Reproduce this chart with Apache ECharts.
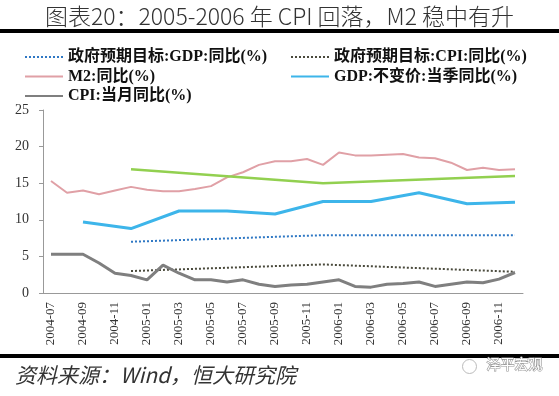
<!DOCTYPE html>
<html lang="zh">
<head>
<meta charset="UTF-8">
<title>图表20</title>
<style>
    html, body { margin: 0; padding: 0; background: #fff; }
    #main { width: 559px; height: 396px; }
</style>
</head>
<body>
<div id="main"></div>
<script src="https://cdn.jsdelivr.net/npm/echarts@6/dist/echarts.min.js"></script>
<script>
// 月份 2004-07 ~ 2006-12
var months = [
    '2004-07','2004-08','2004-09','2004-10','2004-11','2004-12',
    '2005-01','2005-02','2005-03','2005-04','2005-05','2005-06',
    '2005-07','2005-08','2005-09','2005-10','2005-11','2005-12',
    '2006-01','2006-02','2006-03','2006-04','2006-05','2006-06',
    '2006-07','2006-08','2006-09','2006-10','2006-11','2006-12'
];
var yTicks = [0, 5, 10, 15, 20, 25];

// M2:同比(%)
var m2 = [15.3,13.7,14.0,13.5,14.0,14.5,14.1,13.9,13.9,14.2,14.6,15.8,16.5,17.5,18.0,
          18.0,18.3,17.5,19.2,18.8,18.8,18.9,19.0,18.5,18.4,17.8,16.8,17.1,16.8,16.9];
// CPI:当月同比(%)
var cpi = [5.3,5.3,5.3,4.1,2.7,2.4,1.8,3.8,2.7,1.8,1.8,1.5,1.8,1.2,0.9,
           1.1,1.2,1.5,1.8,0.9,0.8,1.2,1.3,1.5,0.9,1.2,1.5,1.4,1.9,2.8];
// GDP:不变价:当季同比(%) 季度
var gdp = [null,null,9.7,null,null,8.8,null,null,11.2,null,null,11.2,null,null,10.8,
           null,null,12.5,null,null,12.5,null,null,13.7,null,null,12.2,null,null,12.4];
// 政府预期目标 (年度)
var gdpTarget = [null,null,null,null,null,7.0,null,null,null,null,null,null,null,null,null,
                 null,null,7.9,null,null,null,null,null,null,null,null,null,null,null,7.9];
var cpiTarget = [null,null,null,null,null,3.0,null,null,null,null,null,null,null,null,null,
                 null,null,3.9,null,null,null,null,null,null,null,null,null,null,null,2.9];
var m2Target = [null,null,null,null,null,16.9,null,null,null,null,null,null,null,null,null,
                null,null,15.0,null,null,null,null,null,null,null,null,null,null,null,16.0];

var serif = "'Liberation Serif', 'Noto Sans CJK SC', serif";
var myChart = echarts.init(document.getElementById('main'));

function line(name, data, color, width, type, z) {
    return {
        name: name,
        type: 'line',
        data: data,
        symbol: 'none',
        connectNulls: true,
        z: z,
        lineStyle: { color: color, width: width, type: type || 'solid' },
        itemStyle: { color: color }
    };
}

var legendText = {
    fontFamily: serif,
    fontWeight: 'bold',
    fontSize: 16,
    lineHeight: 16,
    color: '#111'
};

function legendCol(left, names) {
    return {
        orient: 'vertical',
        left: left,
        top: 49,
        padding: 0,
        itemWidth: 38,
        itemHeight: 10,
        itemGap: 3.5,
        itemStyle: { opacity: 0 },
        textStyle: legendText,
        data: names
    };
}

var option = {
    animation: false,
    backgroundColor: '#fff',
    title: {
        text: '图表20：2005-2006 年 CPI 回落，M2 稳中有升',
        left: 'center',
        top: 0,
        textStyle: {
            fontFamily: "'Noto Sans CJK SC', sans-serif",
            fontWeight: 300,
            fontSize: 23,
            color: '#333'
        }
    },
    legend: [
        legendCol(24, ['政府预期目标:GDP:同比(%)', 'M2:同比(%)', 'CPI:当月同比(%)']),
        legendCol(290, ['政府预期目标:CPI:同比(%)', 'GDP:不变价:当季同比(%)'])
    ],
    grid: {
        left: 43,
        right: 36,
        top: 110,
        bottom: 103
    },
    xAxis: {
        type: 'category',
        data: months,
        boundaryGap: true,
        axisLine: { lineStyle: { color: '#999' } },
        axisTick: { interval: 1, length: 4, lineStyle: { color: '#999' } },
        axisLabel: {
            interval: 1,
            rotate: 90,
            margin: 9,
            fontFamily: serif,
            fontSize: 13,
            color: '#333'
        },
        splitLine: { show: false }
    },
    yAxis: {
        type: 'value',
        min: yTicks[0],
        max: yTicks[yTicks.length - 1],
        interval: 5,
        axisLine: { show: true, lineStyle: { color: '#999' } },
        axisTick: { show: true, length: 4, lineStyle: { color: '#999' } },
        axisLabel: {
            margin: 14,
            fontFamily: serif,
            fontSize: 14,
            color: '#333'
        },
        splitLine: { show: false }
    },
    series: [
        line('政府预期目标:GDP:同比(%)', gdpTarget, '#2f78c4', 2, 'dotted', 3),
        line('政府预期目标:CPI:同比(%)', cpiTarget, '#4a4a3c', 2, 'dotted', 3),
        line('M2:同比(%)', m2, '#e0a0a6', 2, 'solid', 4),
        line('GDP:不变价:当季同比(%)', gdp, '#3db5ea', 3, 'solid', 5),
        line('CPI:当月同比(%)', cpi, '#7f7f7f', 3, 'solid', 5),
        line('政府预期目标:M2:同比(%)', m2Target, '#92d050', 2.5, 'solid', 4)
    ],
    graphic: [
        { type: 'rect', left: 0, top: 29, shape: { width: 559, height: 4 }, style: { fill: '#000' } },
        { type: 'rect', left: 0, top: 354, shape: { width: 559, height: 4 }, style: { fill: '#000' } },
        {
            type: 'text', left: 15, top: 365,
            style: {
                text: '资料来源：Wind，恒大研究院',
                font: "italic 21px 'Noto Sans CJK SC', sans-serif",
                fill: '#333'
            }
        },
        {
            type: 'circle', left: 460, top: 357,
            shape: { r: 7 },
            style: { fill: 'none', stroke: '#bbb', lineWidth: 1 }
        },
        {
            type: 'text', left: 486, top: 356,
            style: {
                text: '泽平宏观',
                font: "14px 'Noto Sans CJK SC', sans-serif",
                fill: '#fff',
                stroke: '#999',
                lineWidth: 1.2
            }
        }
    ]
};

myChart.setOption(option);
</script>
</body>
</html>
